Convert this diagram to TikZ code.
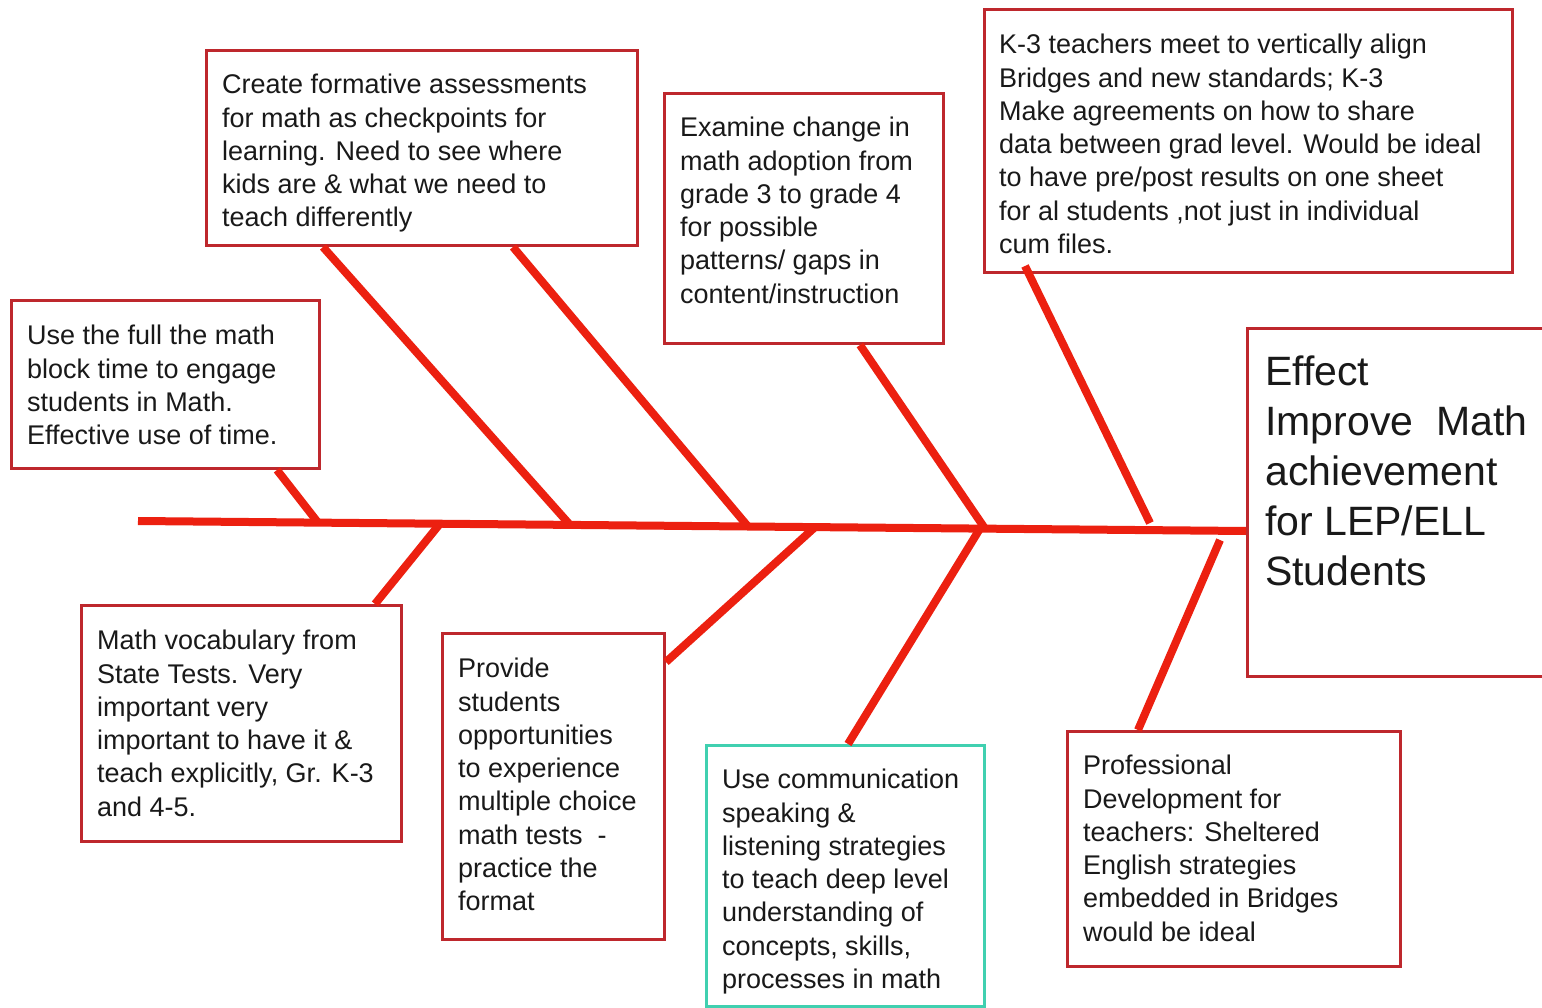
\documentclass[tikz,border=0pt]{standalone}
\usepackage{fontspec}
\setmainfont{Liberation Sans}
\usetikzlibrary{calc}
\definecolor{boxred}{RGB}{190,40,45}
\definecolor{bonered}{RGB}{236,32,16}
\definecolor{tealbox}{RGB}{64,208,176}
\definecolor{txtcol}{RGB}{25,25,25}
\tikzset{
  cbox/.style={draw=boxred, line width=3pt, rectangle, inner sep=0pt, anchor=north west, fill=white},
  tbox/.style={cbox, draw=tealbox},
  txt/.style={font=\fontsize{27}{33.3}\selectfont, text=txtcol, align=left, inner sep=0pt, anchor=north west},
  bigtxt/.style={font=\fontsize{41}{50}\selectfont, text=txtcol, align=left, inner sep=0pt, anchor=north west},
  bone/.style={draw=bonered, line width=8pt},
}
\begin{document}
\begin{tikzpicture}[x=1pt,y=-1pt]
\clip (0,0) rectangle (1542,1008);
\fill[white] (0,0) rectangle (1542,1008);

% boxes
\node[cbox, minimum width=308, minimum height=168] (b1) at (10,299) {};
\node[cbox, minimum width=431, minimum height=195] (b2) at (205,49) {};
\node[cbox, minimum width=279, minimum height=250] (b3) at (663,92) {};
\node[cbox, minimum width=528, minimum height=263] (b4) at (983,8) {};
\node[cbox, minimum width=330, minimum height=348] (effect) at (1246,327) {};
\node[cbox, minimum width=320, minimum height=236] (b6) at (80,604) {};
\node[cbox, minimum width=222, minimum height=306] (b7) at (441,632) {};
\node[tbox, minimum width=278, minimum height=261] (b8) at (705,744) {};
\node[cbox, minimum width=333, minimum height=235] (b9) at (1066,730) {};

% texts
\node[txt] (t1) at (27,325) {Use the full the math\\block time to engage\\students in Math.\\Effective use of time.};
\node[txt] (t2) at (222,74) {Create formative assessments\\for math as checkpoints for\\learning. Need to see where\\kids are \& what we need to\\teach differently};
\node[txt] (t3) at (680,117) {Examine change in\\math adoption from\\grade 3 to grade 4\\for possible\\patterns/ gaps in\\content/instruction};
\node[txt] (t4) at (999,34) {K-3 teachers meet to vertically align\\Bridges and new standards; K-3\\Make agreements on how to share\\data between grad level. Would be ideal\\to have pre/post results on one sheet\\for al students ,not just in individual\\cum files.};
\node[bigtxt] (te) at (1265,356) {Effect\\Improve~~Math\\achievement\\for LEP/ELL\\Students};
\node[txt] (t6) at (97,630) {Math vocabulary from\\State Tests. Very\\important very\\important to have it \&\\teach explicitly, Gr. K-3\\and 4-5.};
\node[txt] (t7) at (458,658) {Provide\\students\\opportunities\\to experience\\multiple choice\\math tests~~-\\practice the\\format};
\node[txt] (t8) at (722,769) {Use communication\\speaking \&\\listening strategies\\to teach deep level\\understanding of\\concepts, skills,\\processes in math};
\node[txt] (t9) at (1083,755) {Professional\\Development for\\teachers: Sheltered\\English strategies\\embedded in Bridges\\would be ideal};

% spine
\coordinate (tail) at (138,521);
\coordinate (head) at ($(effect.north west)+(0,204)$);
\draw[bone] (tail) -- (head);

% junctions on spine
\coordinate (jA) at (318,522.6);
\coordinate (jB) at (570,524.9);
\coordinate (jC) at (748,526.5);
\coordinate (jD) at (985,528.6);
\coordinate (jE) at (1150,523);
\coordinate (jF) at (440,523.7);
\coordinate (jG) at (815,527.1);
\coordinate (jH) at (980,528.6);
\coordinate (jI) at (1220,540);

% bones
\draw[bone] ($(b1.south west)+(267,0)$) -- (jA);
\draw[bone] ($(b2.south west)+(118,0)$) -- (jB);
\draw[bone] ($(b2.south west)+(308,0)$) -- (jC);
\draw[bone] ($(b3.south west)+(197,0)$) -- (jD);
\draw[bone] ($(b4.south west)+(42,-8)$) -- (jE);
\draw[bone] (jF) -- ($(b6.north west)+(295,0)$);
\draw[bone] (jG) -- ($(b7.north east)+(0,30)$);
\draw[bone] (jH) -- ($(b8.north west)+(143,0)$);
\draw[bone] (jI) -- ($(b9.north west)+(72,0)$);
\end{tikzpicture}
\end{document}
